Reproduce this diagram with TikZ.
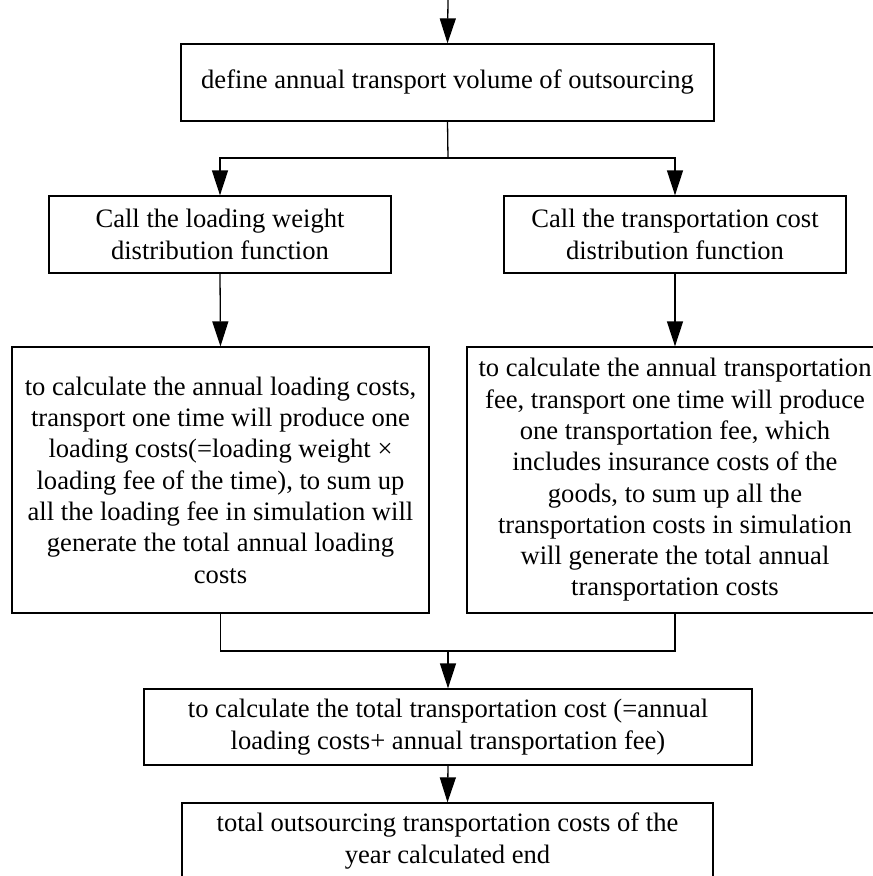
\documentclass[tikz,border=0pt]{standalone}
\usepackage{fontspec}
\setmainfont{Liberation Serif}
\usetikzlibrary{arrows.meta}
\begin{document}
\begin{tikzpicture}[x=1pt,y=-1pt,
  box/.style={draw, line width=1.3pt, align=center, inner sep=0pt,
    font=\fontsize{26.6}{31.3}\selectfont},
  arr/.style={line width=1.3pt, -{Triangle[length=25pt,width=16pt]}},
  ln/.style={line width=1.3pt}]
\useasboundingbox (0,0) rectangle (873,876);
\node[box, minimum width=533pt, minimum height=77pt] (b1) at (447.5,82.5)
  {define annual transport volume of outsourcing};
\node[box, minimum width=342pt, minimum height=77pt] (b2) at (220,234.5)
  {Call the loading weight\\distribution function};
\node[box, minimum width=342pt, minimum height=77pt] (b3) at (675,234.5)
  {Call the transportation cost\\distribution function};
\node[box, minimum width=417pt, minimum height=266pt] (b4) at (220.5,480)
  {to calculate the annual loading costs,\\transport one time will produce one\\loading costs(=loading weight ×\\loading fee of the time), to sum up\\all the loading fee in simulation will\\generate the total annual loading\\costs};
\node[box, minimum width=416pt, minimum height=266pt] (b5) at (675,480)
  {to calculate the annual transportation\\fee, transport one time will produce\\one transportation fee, which\\includes insurance costs of the\\goods, to sum up all the\\transportation costs in simulation\\will generate the total annual\\transportation costs};
\node[box, minimum width=608pt, minimum height=76pt] (b6) at (448,727)
  {to calculate the total transportation cost (=annual\\loading costs+ annual transportation fee)};
\node[box, minimum width=531pt, minimum height=76pt] (b7) at (447.5,841)
  {total outsourcing transportation costs of the\\year calculated end};
\coordinate (start) at (448,0);
\coordinate (split) at (448,158);
\coordinate (merge) at (448,651);
\draw[arr] (start) -- (b1.north);
\draw[ln] (b1.south) -- (split);
\draw[arr] (split) -| (b2.north);
\draw[arr] (split) -| (b3.north);
\draw[arr] (b2.south) -- (b4.north);
\draw[arr] (b3.south) -- (b5.north);
\draw[ln] (b4.south) |- (merge);
\draw[ln] (b5.south) |- (merge);
\draw[arr] (merge) -- (b6.north);
\draw[arr] (b6.south) -- (b7.north);
\end{tikzpicture}
\end{document}
